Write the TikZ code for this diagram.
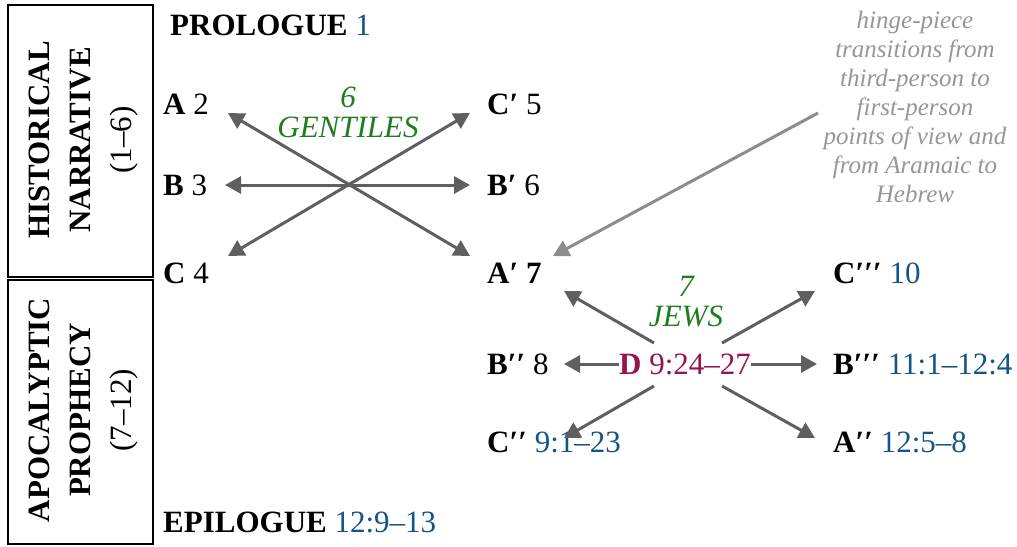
\documentclass[tikz,border=0pt]{standalone}
\usepackage{fontspec}
\setmainfont{Liberation Serif}
\usetikzlibrary{arrows.meta}
\definecolor{numblue}{RGB}{20,85,135}
\definecolor{lblgreen}{RGB}{30,125,30}
\definecolor{dmaroon}{RGB}{150,20,80}
\definecolor{arrgray}{RGB}{95,95,95}
\definecolor{notegray}{RGB}{150,150,150}
\definecolor{hingegray}{RGB}{140,140,140}
\begin{document}
\begin{tikzpicture}[x=1pt,y=-1pt,
  lbl/.style={anchor=west,inner sep=0pt,font=\fontsize{31}{34}\selectfont},
  sidebox/.style={draw=black,line width=2.5pt},
  sidetext/.style={rotate=90,align=center,inner sep=0pt,font=\fontsize{31}{41}\selectfont},
  tagtext/.style={align=center,inner sep=0pt,text=lblgreen,font=\fontsize{31}{30}\selectfont\itshape},
  notetext/.style={align=center,inner sep=0pt,text=notegray,font=\fontsize{25}{29}\selectfont\itshape},
  tip/.style={Triangle[length=16pt,width=17pt]},
  dbl/.style={draw=arrgray,line width=3pt,{Triangle[length=16pt,width=17pt]}-{Triangle[length=16pt,width=17pt]}},
  sgl/.style={draw=arrgray,line width=3pt,-{Triangle[length=16pt,width=17pt]}},
  hinge/.style={draw=hingegray,line width=3pt,-{Triangle[length=16pt,width=17pt]}}]
\useasboundingbox (0,0) rectangle (1017,546);
% side boxes
\draw[sidebox] (8,5) rectangle (153,277);
\draw[sidebox] (8,280) rectangle (153,544);
\node[sidetext] (hist) at (84,140) {\textbf{HISTORICAL}\\\textbf{NARRATIVE}\\(1–6)};
\node[sidetext] (apoc) at (84,410) {\textbf{APOCALYPTIC}\\\textbf{PROPHECY}\\(7–12)};
% labels
\node[lbl] (pro) at (170,25) {\textbf{PROLOGUE} \textcolor{numblue}{1}};
\node[lbl] (a) at (163,104) {\textbf{A} 2};
\node[lbl] (b) at (163,185) {\textbf{B} 3};
\node[lbl] (c) at (163,273) {\textbf{C} 4};
\node[lbl] (cp) at (487,104) {\textbf{C′} 5};
\node[lbl] (bp) at (487,185) {\textbf{B′} 6};
\node[lbl] (ap) at (487,273) {\textbf{A′ 7}};
\node[lbl] (cppp) at (833,273) {\textbf{C′′′} \textcolor{numblue}{10}};
\node[lbl] (bpp) at (487,364) {\textbf{B′′} 8};
\node[lbl] (d) at (619,364) {\textcolor{dmaroon}{\textbf{D} 9:24–27}};
\node[lbl] (bppp) at (833,364) {\textbf{B′′′} \textcolor{numblue}{11:1–12:4}};
\node[lbl] (cpp) at (487,442) {\textbf{C′′} \textcolor{numblue}{9:1–23}};
\node[lbl] (app) at (833,442) {\textbf{A′′} \textcolor{numblue}{12:5–8}};
\node[lbl] (epi) at (163,522) {\textbf{EPILOGUE} \textcolor{numblue}{12:9–13}};
% tags
\node[tagtext] (gent) at (348,112) {6\\GENTILES};
\node[tagtext] (jews) at (686,302) {7\\JEWS};
\node[notetext] (note) at (915,107) {hinge-piece\\transitions from\\third-person to\\first-person\\points of view and\\from Aramaic to\\Hebrew};
% left X
\coordinate (ta) at (228,113);
\coordinate (tb) at (225,185);
\coordinate (tc) at (228,256);
\coordinate (tcp) at (470,113);
\coordinate (tbp) at (470,185);
\coordinate (tap) at (470,256);
\draw[dbl] (ta) -- (tap);
\draw[dbl] (tb) -- (tbp);
\draw[dbl] (tc) -- (tcp);
% right X
\coordinate (sul) at (654,343);
\coordinate (sur) at (722,343);
\coordinate (sll) at (654,386);
\coordinate (slr) at (722,386);
\coordinate (tap2) at (564,291);
\coordinate (tcppp) at (815,291);
\coordinate (tcpp) at (564,438);
\coordinate (tapp) at (815,438);
\coordinate (tbpp) at (564,364);
\coordinate (tbppp) at (817,364);
\draw[sgl] (sul) -- (tap2);
\draw[sgl] (sur) -- (tcppp);
\draw[sgl] (sll) -- (tcpp);
\draw[sgl] (slr) -- (tapp);
\draw[sgl] (d.west) -- (tbpp);
\draw[sgl] (d.east) -- (tbppp);
% hinge arrow
\coordinate (hs) at (818,113);
\coordinate (ht) at (553,256);
\draw[hinge] (hs) -- (ht);
\end{tikzpicture}
\end{document}
